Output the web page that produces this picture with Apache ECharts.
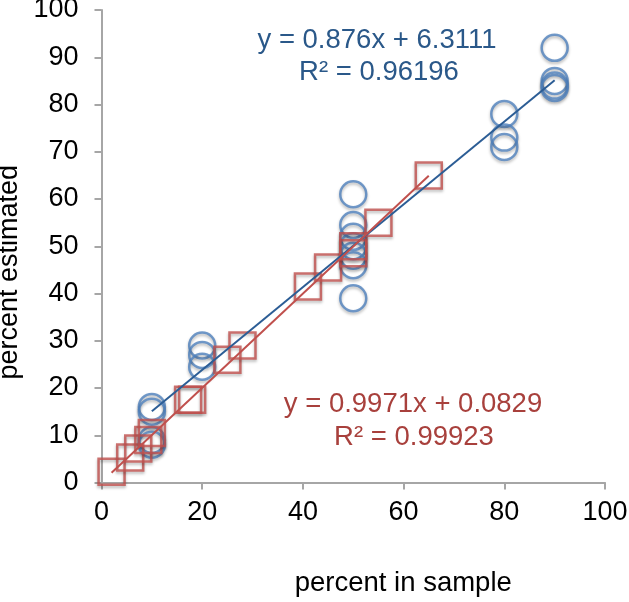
<!DOCTYPE html>
<html>
<head>
<meta charset="utf-8">
<script src="https://cdn.jsdelivr.net/npm/echarts@6/dist/echarts.min.js"></script>
<style>
html,body{margin:0;padding:0;background:#fff;}
#chart{width:629px;height:602px;}
</style>
</head>
<body>
<div id="chart"></div>
<script>
// Blue circles: [percent in sample, percent estimated]
const circlePoints = [
  [10,16],[10,15],[10,9],[10,8],
  [20,29],[20,27],[20,24.5],
  [50,61],[50,54.5],[50,52],[50,50],[50,48],[50,46],[50,39],
  [80,78],[80,73],[80,71],
  [90,92],[90,85],[90,84],[90,83.5]
];
// Red squares
const squarePoints = [
  [2,2.3],[5.7,5.3],[7.3,7.2],[9.3,9],[10,10.5],
  [17.2,17.5],[18,17.5],[25,26],[28,29],
  [41,41.5],[45,45.5],[50,48.5],[50,50],[55,55],[65,65]
];
// Trend line end points as drawn
const blueTrend = [[10,15.07],[90,85.15]];
const redTrend = [[2,2.08],[65,64.9]];
const blueEqText = ['y = 0.876x + 6.3111', 'R² = 0.96196'];
const redEqText = ['y = 0.9971x + 0.0829', 'R² = 0.99923'];
const xName = 'percent in sample';
const yName = 'percent estimated';

const FONT = '"Liberation Sans", Arial, sans-serif';
const blueMarker = '#4f81bd';
const blueLine = '#2c5d95';
const blueText = '#2a5889';
const redMarker = '#c0504d';
const redLine = '#c0504d';
const redText = '#a8403c';
const axisGrey = '#a6a6a6';

const chart = echarts.init(document.getElementById('chart'));
const axisCommon = {
  type: 'value', min: 0, max: 100,
  splitLine: {show: false},
  axisLine: {show: true, onZero: false, lineStyle: {color: axisGrey, width: 2}},
  axisTick: {show: true, inside: false, length: 7, lineStyle: {color: axisGrey, width: 2}},
  nameLocation: 'middle'
};
chart.setOption({
  animation: false,
  grid: {left: 101.5, right: 24, top: 10, bottom: 119.5, containLabel: false, outerBoundsMode: 'none'},
  xAxis: Object.assign({}, axisCommon, {
    interval: 20,
    name: xName, nameGap: 87,
    nameTextStyle: {fontFamily: FONT, fontSize: 27.5, color: '#000', padding: [0,0,0,100]},
    axisLabel: {fontFamily: FONT, fontSize: 27, color: '#000', margin: 17}
  }),
  yAxis: Object.assign({}, axisCommon, {
    interval: 10,
    name: yName, nameGap: 74,
    nameTextStyle: {fontFamily: FONT, fontSize: 27, color: '#000', padding: [0,52,0,0]},
    axisLabel: {fontFamily: FONT, fontSize: 27, color: '#000', margin: 23}
  }),
  series: [
    {
      type: 'scatter', data: circlePoints, symbol: 'circle', symbolSize: 26,
      itemStyle: {color: 'rgba(0,0,0,0)', borderColor: blueMarker, borderWidth: 2.5,
        shadowBlur: 3, shadowColor: 'rgba(0,0,0,0.35)', shadowOffsetY: 2}
    },
    {
      type: 'scatter', data: squarePoints, symbol: 'rect', symbolSize: 26,
      itemStyle: {color: 'rgba(0,0,0,0)', borderColor: redMarker, borderWidth: 2.5,
        shadowBlur: 3, shadowColor: 'rgba(0,0,0,0.35)', shadowOffsetY: 2}
    },
    {
      type: 'line', data: blueTrend, symbol: 'none',
      lineStyle: {color: blueLine, width: 2}
    },
    {
      type: 'line', data: redTrend, symbol: 'none',
      lineStyle: {color: redLine, width: 2}
    }
  ],
  graphic: [
    {type: 'text', x: 377, y: 40, style: {text: blueEqText[0], fill: blueText, font: '27.5px ' + FONT, textAlign: 'center', textVerticalAlign: 'middle'}},
    {type: 'text', x: 379, y: 72, style: {text: blueEqText[1], fill: blueText, font: '27.5px ' + FONT, textAlign: 'center', textVerticalAlign: 'middle'}},
    {type: 'text', x: 413, y: 404, style: {text: redEqText[0], fill: redText, font: '27.5px ' + FONT, textAlign: 'center', textVerticalAlign: 'middle'}},
    {type: 'text', x: 414, y: 437, style: {text: redEqText[1], fill: redText, font: '27.5px ' + FONT, textAlign: 'center', textVerticalAlign: 'middle'}}
  ]
});
</script>
</body>
</html>
